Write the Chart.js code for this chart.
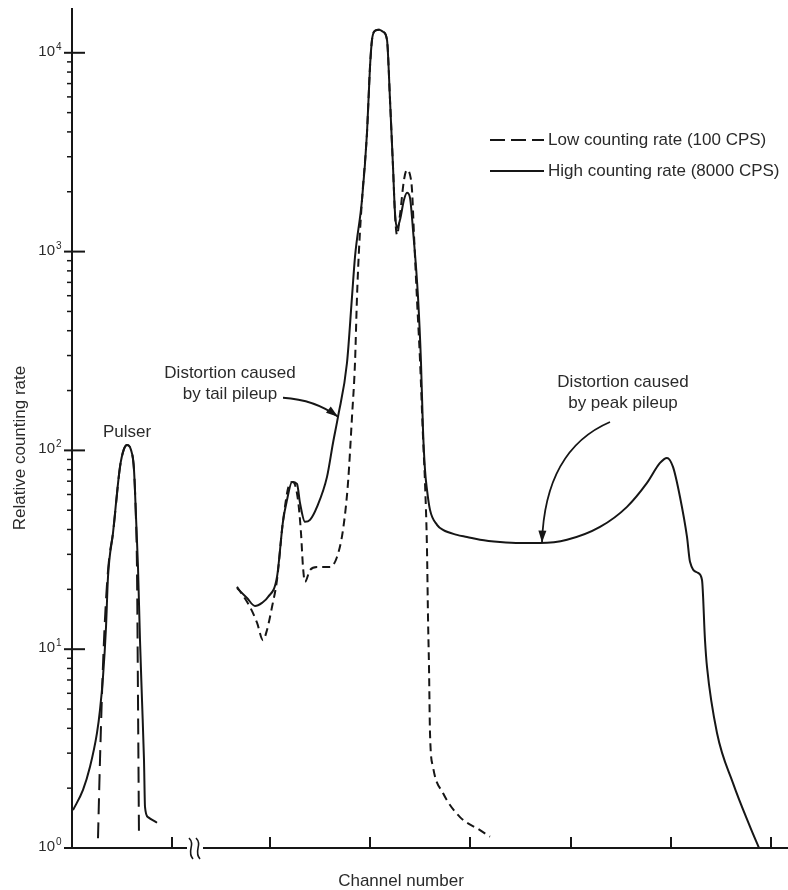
<!DOCTYPE html>
<html lang="en">
<head>
<meta charset="utf-8" />
<title>Pileup distortion of a pulse height spectrum</title>
<script src="https://cdn.jsdelivr.net/npm/chart.js"></script>
<style>
  body { margin: 0; background: #fff; }
  canvas { display: block; }
</style>
</head>
<body>
<canvas id="spectrum" width="788" height="890"></canvas>
<script>
// Channel numbers are relative units: the axis carries no numbers.
// A null count splits the pulser line from the main spectrum.
const lowRateChannels = [
  26, 28, 31, 34, 37, 41, 48, 52, 55, 59, 62, 64, 65, 66, 67,
  120,
  165, 178, 185, 191, 195, 200, 205, 211, 218, 221, 226, 229, 231, 233, 238,
  245, 258, 265, 271, 276, 280, 283, 285, 287, 290, 295, 298, 300, 303, 307,
  311, 315, 318, 321, 323, 325, 328, 332, 335, 338, 340, 342, 345, 348, 351,
  353, 355, 356, 357, 358, 361, 371, 388, 408, 418
];
const lowRateCounts = [
  1.12, 2.77, 8.33, 17.7, 28.1, 38.4, 82.6, 101.7, 106.6, 100.6, 79.8, 44.7, 25.1, 5.55, 1.12,
  null,
  20.6, 16.3, 13.6, 11.1, 12.5, 16.3, 22.3, 44, 68.6, 69.4, 56.3, 38.4, 25.9, 21.8, 25.0,
  25.9, 25.9, 29.1, 39.8, 68.6, 147.5, 276, 592, 1020, 1821, 3958, 8500, 11620, 12900, 13060,
  12760, 11620, 5800, 2670, 1531, 1214, 1531, 2296, 2577, 2434, 2045, 1214, 572, 285, 116.9,
  68.6, 31.6, 14.5, 8.14, 3.79, 2.56, 1.89, 1.43, 1.23, 1.14
];

const highRateChannels = [
  1, 11, 18, 25, 28, 31, 34, 36, 41, 48, 52, 55, 59, 62, 64, 66, 68, 70, 72, 73, 76, 85,
  120,
  165, 175, 183, 190, 196, 205, 211, 215, 220, 225, 228, 233, 238, 245, 255, 261, 266,
  275, 280, 283, 290, 295, 298, 300, 303, 307, 311, 315, 318, 321, 323, 325, 328, 332,
  335, 338, 341, 346, 349, 351, 353, 355, 358, 365, 371, 385, 395, 408, 428, 448, 468,
  495, 528, 555, 575, 588, 595, 601, 608, 615, 618, 626, 630, 633, 635, 645, 661, 678, 687
];
const highRateCounts = [
  1.55, 1.96, 2.56, 3.79, 4.95, 7.25, 12.9, 23.1, 38.4, 82.6, 101.7, 106.6, 100.6, 79.8, 46.3,
  25.9, 11.1, 5.55, 2.77, 1.61, 1.43, 1.34,
  null,
  20.3, 18.1, 16.5, 17.1, 18.3, 23.1, 44, 56.3, 69.4, 67.8, 54.4, 43.7, 44.7, 52.0, 73.6, 109, 147.5,
  276, 592, 941, 1821, 3958, 8500, 11620, 12900, 13060, 12760, 11620, 5800, 2670, 1567, 1317, 1445, 1821,
  1975, 1864, 1286, 592, 276, 126.8, 79.8, 63.3, 50.2, 42.2, 39.8, 37.6, 36.7, 35.5, 34.6, 34.2, 34.2,
  35.5, 41.2, 52.0, 68.6, 86.5, 91.7, 82.6, 58.3, 36.7, 27.5, 24.2, 22.3, 11.1, 8.14, 3.79, 2.12, 1.28, 1.0
];

const seriesLabels = ['Low counting rate (100 CPS)', 'High counting rate (8000 CPS)'];
const decadeValues = [1, 10, 100, 1000, 10000];
const decadeExponents = ['0', '1', '2', '3', '4'];
const xTickChannels = [100, 198, 298, 398, 499, 599, 699];
const axisBreakChannel = 123;

const notes = [
  { lines: ['Pulser'], at: [55, 124] },
  { lines: ['Distortion caused', 'by tail pileup'], at: [158, 245] },
  { lines: ['Distortion caused', 'by peak pileup'], at: [551, 219] }
];
const arrows = [
  { from: [211, 184], bend: [243, 180], to: [266, 147.5] },
  { from: [538, 139], bend: [473, 100.6], to: [470, 34.4] }
];

const ink = '#161616';
const textInk = '#2a2a2a';
const fontFamily = "'Liberation Sans', Arial, sans-serif";

function toPoints(channels, counts) {
  return channels.map((c, i) => ({ x: c, y: counts[i] }));
}

function arrowHead(ctx, tip, back, len, half) {
  const ang = Math.atan2(tip[1] - back[1], tip[0] - back[0]);
  const bx = tip[0] - len * Math.cos(ang), by = tip[1] - len * Math.sin(ang);
  ctx.beginPath();
  ctx.moveTo(tip[0], tip[1]);
  ctx.lineTo(bx + half * Math.sin(ang), by - half * Math.cos(ang));
  ctx.lineTo(bx - half * Math.sin(ang), by + half * Math.cos(ang));
  ctx.closePath();
  ctx.fill();
}

// axes, ticks, legend and notes are drawn by hand on top of the datasets
const drawFrame = {
  id: 'drawFrame',
  afterDatasetsDraw(chart) {
    const { ctx, chartArea: area, scales: { x, y } } = chart;
    const x0 = x.getPixelForValue(0);
    const yBase = y.getPixelForValue(1);
    ctx.save();
    ctx.strokeStyle = ink;
    ctx.fillStyle = ink;
    ctx.lineCap = 'butt';
    ctx.setLineDash([]);

    // axis lines with a break in the channel axis
    const breakX = x.getPixelForValue(axisBreakChannel);
    ctx.lineWidth = 2;
    ctx.beginPath();
    ctx.moveTo(x0, area.top);
    ctx.lineTo(x0, yBase);
    ctx.lineTo(breakX - 8, yBase);
    ctx.moveTo(breakX + 8, yBase);
    ctx.lineTo(area.right, yBase);
    ctx.stroke();

    ctx.lineWidth = 1.6;
    [-4, 3].forEach(o => {
      const bx = breakX + o;
      ctx.beginPath();
      ctx.moveTo(bx - 2, yBase - 10);
      ctx.bezierCurveTo(bx + 5, yBase - 3, bx - 5, yBase + 3, bx + 2, yBase + 11);
      ctx.stroke();
    });

    // channel ticks point up into the plot
    ctx.lineWidth = 2;
    xTickChannels.forEach(c => {
      const px = x.getPixelForValue(c);
      ctx.beginPath();
      ctx.moveTo(px, yBase);
      ctx.lineTo(px, yBase - 11);
      ctx.stroke();
    });

    // log ticks: decades cross the axis, minor ticks sit outside
    decadeValues.forEach((d, i) => {
      for (let m = 1; m <= 9; m++) {
        const v = m * d;
        if (v > y.max) break;
        const py = y.getPixelForValue(v);
        ctx.beginPath();
        if (m === 1) {
          ctx.lineWidth = 2;
          ctx.moveTo(x0 - 8, py);
          ctx.lineTo(i === 0 ? x0 : x0 + 13, py);
        } else {
          ctx.lineWidth = 1.5;
          ctx.moveTo(x0 - 5, py);
          ctx.lineTo(x0, py);
        }
        ctx.stroke();
      }
      const py = y.getPixelForValue(d);
      ctx.fillStyle = textInk;
      ctx.textBaseline = 'alphabetic';
      ctx.textAlign = 'right';
      ctx.font = '15px ' + fontFamily;
      ctx.fillText('10', x0 - 17, py + 3);
      ctx.textAlign = 'left';
      ctx.font = '10px ' + fontFamily;
      ctx.fillText(decadeExponents[i], x0 - 16, py - 3);
    });

    // axis titles
    ctx.fillStyle = textInk;
    ctx.font = '17px ' + fontFamily;
    ctx.textAlign = 'center';
    ctx.textBaseline = 'middle';
    ctx.fillText('Channel number', 401, 881);
    ctx.save();
    ctx.translate(20, 448);
    ctx.rotate(-Math.PI / 2);
    ctx.fillText('Relative counting rate', 0, 0);
    ctx.restore();

    // legend
    const legendX = 490, legendW = 54;
    const rows = [{ dash: [15, 6], y: 140 }, { dash: [], y: 171 }];
    rows.forEach((r, i) => {
      ctx.strokeStyle = ink;
      ctx.lineWidth = 2;
      ctx.setLineDash(r.dash);
      ctx.beginPath();
      ctx.moveTo(legendX, r.y);
      ctx.lineTo(legendX + legendW, r.y);
      ctx.stroke();
      ctx.setLineDash([]);
      ctx.textAlign = 'left';
      ctx.fillText(seriesLabels[i], legendX + 58, r.y);
    });

    // notes
    notes.forEach(n => {
      const nx = x.getPixelForValue(n.at[0]);
      const ny = y.getPixelForValue(n.at[1]);
      n.lines.forEach((line, k) => {
        ctx.textAlign = 'center';
        ctx.fillText(line, nx, ny + k * 21);
      });
    });

    // arrows pointing at the distortions
    ctx.strokeStyle = ink;
    ctx.fillStyle = ink;
    ctx.lineWidth = 1.8;
    arrows.forEach(a => {
      const p0 = [x.getPixelForValue(a.from[0]), y.getPixelForValue(a.from[1])];
      const pc = [x.getPixelForValue(a.bend[0]), y.getPixelForValue(a.bend[1])];
      const p1 = [x.getPixelForValue(a.to[0]), y.getPixelForValue(a.to[1])];
      ctx.beginPath();
      ctx.moveTo(p0[0], p0[1]);
      ctx.quadraticCurveTo(pc[0], pc[1], p1[0], p1[1]);
      ctx.stroke();
      arrowHead(ctx, p1, pc, 12, 4);
    });

    ctx.restore();
  }
};

new Chart(document.getElementById('spectrum'), {
  type: 'line',
  data: {
    datasets: [
      {
        label: seriesLabels[0],
        data: toPoints(lowRateChannels, lowRateCounts),
        borderColor: ink,
        borderWidth: 2,
        borderDash: [8, 5],
        segment: {
          borderDash: ctx => ctx.p0.parsed.x < 120 ? [16, 8] : undefined
        },
        cubicInterpolationMode: 'monotone',
        pointRadius: 0,
        spanGaps: false,
        fill: false,
        clip: false
      },
      {
        label: seriesLabels[1],
        data: toPoints(highRateChannels, highRateCounts),
        borderColor: ink,
        borderWidth: 2,
        cubicInterpolationMode: 'monotone',
        pointRadius: 0,
        spanGaps: false,
        fill: false,
        clip: false
      }
    ]
  },
  options: {
    responsive: false,
    animation: false,
    layout: { padding: { left: 72, right: 0, top: 8, bottom: 42 } },
    scales: {
      x: { type: 'linear', display: false, min: 0, max: 716 },
      y: { type: 'logarithmic', display: false, min: 1, max: 16800 }
    },
    plugins: {
      legend: { display: false },
      tooltip: { enabled: false }
    }
  },
  plugins: [drawFrame]
});
</script>
</body>
</html>
